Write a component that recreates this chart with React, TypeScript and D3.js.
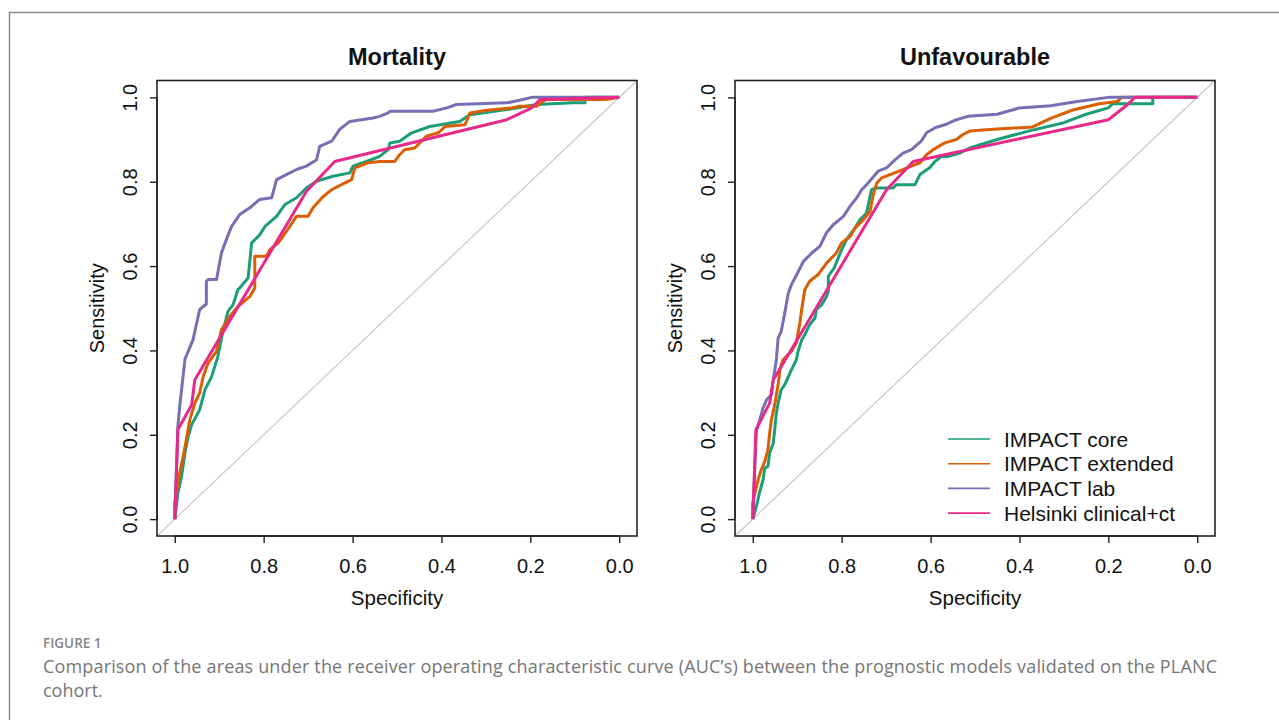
import React, { useEffect, useRef } from 'react'
import * as d3 from 'd3'

// ROC points, as [specificity, sensitivity]
const modelNames = ['IMPACT core', 'IMPACT extended', 'IMPACT lab', 'Helsinki clinical+ct']
const modelColours = ['#1B9E77', '#D95F02', '#7570B3', '#E7298A']
const axisTicks = [1.0, 0.8, 0.6, 0.4, 0.2, 0.0]

const mortalityCore: [number, number][] = [
  [1, 0], [0.993, 0.062], [0.985, 0.1], [0.977, 0.157], [0.97, 0.196], [0.962, 0.224], [0.944, 0.259],
  [0.932, 0.307], [0.917, 0.338], [0.903, 0.386], [0.891, 0.449], [0.88, 0.493], [0.869, 0.508],
  [0.858, 0.544], [0.854, 0.548], [0.835, 0.572], [0.827, 0.655], [0.809, 0.674], [0.797, 0.694],
  [0.771, 0.718], [0.752, 0.746], [0.726, 0.762], [0.704, 0.785], [0.681, 0.801], [0.644, 0.813],
  [0.606, 0.821], [0.599, 0.837], [0.569, 0.848], [0.539, 0.86], [0.52, 0.876], [0.516, 0.892],
  [0.494, 0.896], [0.467, 0.916], [0.426, 0.931], [0.359, 0.943], [0.336, 0.959], [0.253, 0.971],
  [0.186, 0.983], [0.104, 0.987], [0.077, 0.987], [0.077, 1], [0, 1],
]
const mortalityExtended: [number, number][] = [
  [1, 0], [1, 0.04], [0.996, 0.062], [0.989, 0.109], [0.981, 0.149], [0.974, 0.188], [0.966, 0.236],
  [0.955, 0.275], [0.944, 0.299], [0.936, 0.338], [0.925, 0.37], [0.906, 0.398], [0.895, 0.449],
  [0.876, 0.481], [0.858, 0.504], [0.831, 0.528], [0.82, 0.548], [0.82, 0.623], [0.794, 0.623],
  [0.786, 0.639], [0.767, 0.655], [0.749, 0.682], [0.726, 0.718], [0.7, 0.718], [0.689, 0.738],
  [0.666, 0.765], [0.647, 0.781], [0.625, 0.793], [0.602, 0.805], [0.595, 0.833], [0.565, 0.845],
  [0.539, 0.848], [0.505, 0.848], [0.494, 0.864], [0.483, 0.876], [0.46, 0.88], [0.445, 0.896],
  [0.434, 0.908], [0.407, 0.916], [0.392, 0.931], [0.347, 0.935], [0.336, 0.963], [0.302, 0.969],
  [0.242, 0.975], [0.224, 0.979], [0.186, 0.979], [0.171, 0.991], [0.164, 0.995], [0.03, 0.995], [0, 1],
]
const mortalityLab: [number, number][] = [
  [1, 0], [0.993, 0.22], [0.989, 0.267], [0.977, 0.38], [0.959, 0.425], [0.944, 0.497], [0.929, 0.51],
  [0.929, 0.564], [0.925, 0.568], [0.906, 0.568], [0.895, 0.631], [0.88, 0.674], [0.872, 0.694],
  [0.854, 0.722], [0.831, 0.738], [0.809, 0.758], [0.782, 0.762], [0.771, 0.805], [0.749, 0.817],
  [0.726, 0.829], [0.704, 0.837], [0.681, 0.852], [0.674, 0.884], [0.647, 0.896], [0.629, 0.924],
  [0.606, 0.943], [0.554, 0.951], [0.539, 0.955], [0.52, 0.963], [0.516, 0.967], [0.419, 0.967],
  [0.388, 0.975], [0.366, 0.983], [0.253, 0.987], [0.224, 0.993], [0.197, 1], [0, 1],
]
const mortalityHelsinki: [number, number][] = [
  [1, 0], [0.993, 0.212], [0.962, 0.271], [0.955, 0.33], [0.704, 0.777], [0.64, 0.848],
  [0.253, 0.947], [0.197, 0.975], [0.178, 0.995], [0, 1],
]

const unfavCore: [number, number][] = [
  [1, 0], [0.992, 0.03], [0.985, 0.062], [0.977, 0.093], [0.973, 0.121], [0.966, 0.125], [0.962, 0.157],
  [0.954, 0.18], [0.951, 0.208], [0.947, 0.251], [0.943, 0.275], [0.936, 0.307], [0.928, 0.319],
  [0.92, 0.338], [0.913, 0.354], [0.902, 0.378], [0.898, 0.398], [0.89, 0.425], [0.883, 0.437],
  [0.872, 0.461], [0.86, 0.477], [0.857, 0.497], [0.845, 0.508], [0.834, 0.528], [0.83, 0.54],
  [0.83, 0.576], [0.817, 0.595], [0.8, 0.639], [0.789, 0.663], [0.77, 0.69], [0.759, 0.71],
  [0.744, 0.726], [0.733, 0.781], [0.725, 0.785], [0.684, 0.785], [0.677, 0.793], [0.635, 0.793],
  [0.624, 0.817], [0.602, 0.833], [0.59, 0.848], [0.575, 0.86], [0.56, 0.86], [0.534, 0.868],
  [0.512, 0.88], [0.45, 0.9], [0.38, 0.92], [0.3, 0.94], [0.25, 0.96], [0.2, 0.975], [0.19, 0.985],
  [0.1, 0.985], [0.1, 1], [0, 1],
]
const unfavExtended: [number, number][] = [
  [1, 0], [1, 0.04], [0.988, 0.093], [0.981, 0.117], [0.973, 0.137], [0.966, 0.164], [0.962, 0.204],
  [0.958, 0.236], [0.95, 0.275], [0.943, 0.319], [0.939, 0.354], [0.932, 0.378], [0.913, 0.398],
  [0.902, 0.418], [0.894, 0.465], [0.89, 0.497], [0.883, 0.544], [0.872, 0.564], [0.853, 0.58],
  [0.834, 0.607], [0.812, 0.631], [0.8, 0.655], [0.781, 0.67], [0.77, 0.69], [0.751, 0.71],
  [0.736, 0.73], [0.729, 0.769], [0.721, 0.797], [0.71, 0.809], [0.691, 0.817], [0.661, 0.829],
  [0.643, 0.837], [0.624, 0.845], [0.609, 0.864], [0.594, 0.876], [0.568, 0.892], [0.542, 0.9],
  [0.527, 0.912], [0.512, 0.92], [0.45, 0.925], [0.37, 0.93], [0.33, 0.95], [0.28, 0.97],
  [0.22, 0.985], [0.18, 0.99], [0.17, 1], [0, 1],
]
const unfavLab: [number, number][] = [
  [1, 0], [0.992, 0.208], [0.984, 0.236], [0.977, 0.263], [0.969, 0.283], [0.958, 0.295], [0.954, 0.33],
  [0.947, 0.378], [0.943, 0.429], [0.936, 0.445], [0.928, 0.489], [0.92, 0.536], [0.913, 0.556],
  [0.901, 0.58], [0.886, 0.611], [0.867, 0.631], [0.849, 0.647], [0.834, 0.679], [0.819, 0.698],
  [0.796, 0.718], [0.781, 0.742], [0.766, 0.762], [0.755, 0.781], [0.744, 0.793], [0.718, 0.825],
  [0.699, 0.833], [0.68, 0.852], [0.662, 0.868], [0.643, 0.876], [0.621, 0.896], [0.609, 0.916],
  [0.59, 0.928], [0.568, 0.935], [0.542, 0.947], [0.516, 0.955], [0.45, 0.96], [0.4, 0.975],
  [0.33, 0.98], [0.27, 0.99], [0.2, 1], [0, 1],
]
const unfavHelsinki: [number, number][] = [
  [1, 0], [0.993, 0.212], [0.962, 0.275], [0.954, 0.33], [0.699, 0.781], [0.639, 0.848],
  [0.2, 0.947], [0.16, 0.98], [0.14, 1], [0, 1],
]

const panelTitles = ['Mortality', 'Unfavourable']
const panelCurves = [
  [mortalityCore, mortalityExtended, mortalityLab, mortalityHelsinki],
  [unfavCore, unfavExtended, unfavLab, unfavHelsinki],
]

const width = 1279
const height = 720
const panelLeft = [157, 735]
const panelWidth = 480
const boxTop = 80.5
const boxBottom = 536
const font = 'Liberation Sans, Arial, sans-serif'

export default function App() {
  const ref = useRef<SVGSVGElement>(null)

  useEffect(() => {
    const svg = d3.select(ref.current)
    svg.selectAll('*').remove()

    // outer frame of the figure (only top and left edge visible)
    svg.append('path')
      .attr('d', `M9.5,${height} V12.5 H${width}`)
      .attr('fill', 'none')
      .attr('stroke', '#8c8c8c')
      .attr('stroke-width', 1.5)

    panelTitles.forEach((title, p) => {
      const x0 = panelLeft[p]
      const x = d3.scaleLinear().domain([1.04, -0.04]).range([x0, x0 + panelWidth])
      const y = d3.scaleLinear().domain([-0.04, 1.04]).range([boxBottom, boxTop])
      const g = svg.append('g')

      // chance line
      g.append('line')
        .attr('x1', x(1.04)).attr('y1', y(-0.04))
        .attr('x2', x(-0.04)).attr('y2', y(1.04))
        .attr('stroke', '#c4c4c4')
        .attr('stroke-width', 1.1)

      const line = d3.line<[number, number]>()
        .x(d => x(d[0]))
        .y(d => y(d[1]))

      panelCurves[p].forEach((pts, i) => {
        g.append('path')
          .datum(pts)
          .attr('d', line)
          .attr('fill', 'none')
          .attr('stroke', modelColours[i])
          .attr('stroke-width', 3)
          .attr('stroke-linejoin', 'round')
      })

      g.append('rect')
        .attr('x', x0).attr('y', boxTop)
        .attr('width', panelWidth).attr('height', boxBottom - boxTop)
        .attr('fill', 'none')
        .attr('stroke', '#222')
        .attr('stroke-width', 1.6)

      // x axis
      const xAxis = g.append('g')
        .attr('transform', `translate(0,${boxBottom})`)
        .call(d3.axisBottom(x).tickValues(axisTicks).tickSize(7).tickPadding(16).tickFormat(d3.format('.1f')))
      xAxis.select('.domain').attr('stroke', '#222').attr('stroke-width', 1.4)
        .attr('d', `M${x(1)},0H${x(0)}`)
      xAxis.selectAll('.tick line').attr('stroke', '#222').attr('stroke-width', 1.4)
      xAxis.selectAll('.tick text')
        .attr('font-family', font).attr('font-size', 20).attr('fill', '#111')

      // y axis
      const yAxis = g.append('g')
        .attr('transform', `translate(${x0},0)`)
        .call(d3.axisLeft(y).tickValues(axisTicks).tickSize(7).tickFormat(d3.format('.1f')))
      yAxis.select('.domain').attr('stroke', '#222').attr('stroke-width', 1.4)
        .attr('d', `M0,${y(0)}V${y(1)}`)
      yAxis.selectAll('.tick line').attr('stroke', '#222').attr('stroke-width', 1.4)
      yAxis.selectAll('.tick text')
        .attr('x', null).attr('dy', null)
        .attr('transform', 'translate(-27,0) rotate(-90)')
        .attr('text-anchor', 'middle')
        .attr('dominant-baseline', 'central')
        .attr('font-family', font).attr('font-size', 20).attr('fill', '#111')

      g.append('text')
        .attr('x', x0 + panelWidth / 2).attr('y', 65)
        .attr('text-anchor', 'middle')
        .attr('font-family', font).attr('font-size', 23.5).attr('font-weight', 'bold')
        .attr('fill', '#111')
        .text(title)

      g.append('text')
        .attr('x', x0 + panelWidth / 2).attr('y', 605)
        .attr('text-anchor', 'middle')
        .attr('font-family', font).attr('font-size', 20.5).attr('fill', '#111')
        .text('Specificity')

      g.append('text')
        .attr('transform', `translate(${x0 - 60},${(boxTop + boxBottom) / 2}) rotate(-90)`)
        .attr('text-anchor', 'middle')
        .attr('dominant-baseline', 'central')
        .attr('font-family', font).attr('font-size', 20).attr('fill', '#111')
        .text('Sensitivity')

      if (p === 1) {
        const legend = g.append('g').attr('transform', 'translate(948,439)')
        modelNames.forEach((name, i) => {
          const row = legend.append('g').attr('transform', `translate(0,${i * 24.7})`)
          row.append('line')
            .attr('x1', 0).attr('x2', 42)
            .attr('stroke', modelColours[i]).attr('stroke-width', 1.6)
          row.append('text')
            .attr('x', 56)
            .attr('dominant-baseline', 'central')
            .attr('font-family', font).attr('font-size', 21).attr('fill', '#111')
            .text(name)
        })
      }
    })

    svg.append('text')
      .attr('x', 43).attr('y', 648)
      .attr('font-family', 'Open Sans, sans-serif').attr('font-size', 13.5).attr('font-weight', 600)
      .attr('fill', '#858585')
      .text('FIGURE 1')

    const caption = svg.append('text')
      .attr('font-family', 'Open Sans, sans-serif').attr('font-size', 18)
      .attr('fill', '#767676')
    caption.append('tspan').attr('x', 43).attr('y', 673)
      .attr('textLength', 1174).attr('lengthAdjust', 'spacing')
      .text('Comparison of the areas under the receiver operating characteristic curve (AUC\u2019s) between the prognostic models validated on the PLANC')
    caption.append('tspan').attr('x', 43).attr('y', 697)
      .text('cohort.')
  }, [])

  return (
    <svg
      ref={ref}
      width={width}
      height={height}
      style={{ position: 'absolute', left: 0, top: 0, background: '#fff' }}
    />
  )
}
